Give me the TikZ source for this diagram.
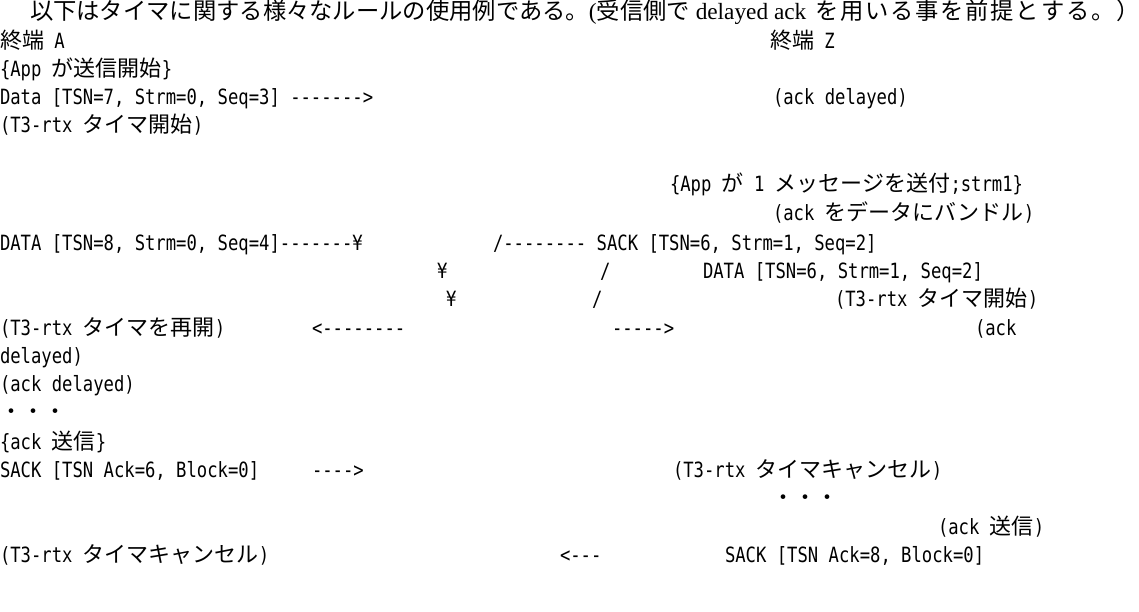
\documentclass[tikz,border=0pt]{standalone}
\usepackage{fontspec}
\setmainfont[FakeStretch=0.82,Ligatures=TeXOff]{DejaVu Sans Mono}
\newfontfamily\jp{Noto Sans CJK JP}
\newfontfamily\tms{Liberation Serif}
\newcommand{\J}[1]{{\jp\fontsize{22}{26}\selectfont #1}}
\newcommand{\JT}[1]{{\jp #1}}
\newcommand{\g}{\hspace{1.8pt}}
\begin{document}
\begin{tikzpicture}[x=1pt,y=-1pt,
  txt/.style={anchor=base west,inner sep=0pt,outer sep=0pt,font=\fontsize{21}{26}\selectfont},
  ttl/.style={anchor=base west,inner sep=0pt,outer sep=0pt,font=\fontsize{23.3}{28}\selectfont}]
\useasboundingbox (0,0) rectangle (1139,612);
\def\b{7}
% line 1
\node[ttl] (title) at (30,13+\b) {\JT{以下はタイマに関する様々なルールの使用例である。}{\tms (}\JT{受信側で}{\tms\ delayed ack }\hspace{3pt}\JT{を\g 用\g い\g る\g 事\g を\g 前\g 提\g と\g す\g る\g 。\g ）}};
% line 2
\node[txt] (endA) at (0,42+\b) {\J{終端} A};
\node[txt] (endZ) at (770,42+\b) {\J{終端} Z};
% line 3
\node[txt] (appA) at (0,70+\b) {\{App \J{が送信開始}\}};
% line 4
\node[txt] (d7) at (0,98+\b) {Data [TSN=7, Strm=0, Seq=3] ------->};
\node[txt] (ad1) at (773,98+\b) {(ack delayed)};
% line 5
\node[txt] (t3a) at (0,126+\b) {(T3-rtx \J{タイマ開始})};
% line 7
\node[txt] (appZ) at (670,185+\b) {\{App \J{が} 1 \J{メッセージを送付};strm1\}};
% line 8
\node[txt] (bund) at (773,214+\b) {(ack \J{をデータにバンドル})};
% line 9
\node[txt] (d8) at (0,243+\b) {DATA [TSN=8, Strm=0, Seq=4]-------¥};
\node[txt] (s6) at (493,243+\b) {/-------- SACK [TSN=6, Strm=1, Seq=2]};
% line 10
\node[txt] (y1) at (437,271+\b) {¥};
\node[txt] (sl1) at (600,271+\b) {/};
\node[txt] (d6) at (703,271+\b) {DATA [TSN=6, Strm=1, Seq=2]};
% line 11
\node[txt] (y2) at (446,299+\b) {¥};
\node[txt] (sl2) at (592,299+\b) {/};
\node[txt] (t3z) at (835,299+\b) {(T3-rtx \J{タイマ開始})};
% line 12
\node[txt] (t3r) at (0,328+\b) {(T3-rtx \J{タイマを再開})};
\node[txt] (arL) at (312,328+\b) {<--------};
\node[txt] (arR) at (612,328+\b) {----->};
\node[txt] (ack2) at (975,328+\b) {(ack};
% line 13
\node[txt] (del2) at (0,356+\b) {delayed)};
% line 14
\node[txt] (ad3) at (0,384+\b) {(ack delayed)};
% line 15
\node[txt] (dots1) at (0,412+\b) {\J{・・・}};
% line 16
\node[txt] (ackA) at (0,442+\b) {\{ack \J{送信}\}};
% line 17
\node[txt] (sk6) at (0,470+\b) {SACK [TSN Ack=6, Block=0]};
\node[txt] (ar6) at (312,470+\b) {---->};
\node[txt] (cz) at (673,470+\b) {(T3-rtx \J{タイマキャンセル})};
% line 18
\node[txt] (dots2) at (772,498+\b) {\J{・・・}};
% line 19
\node[txt] (ackZ) at (938,527+\b) {(ack \J{送信})};
% line 20
\node[txt] (ca) at (0,555+\b) {(T3-rtx \J{タイマキャンセル})};
\node[txt] (arL2) at (560,555+\b) {<---};
\node[txt] (sk8) at (725,555+\b) {SACK [TSN Ack=8, Block=0]};
\end{tikzpicture}
\end{document}
